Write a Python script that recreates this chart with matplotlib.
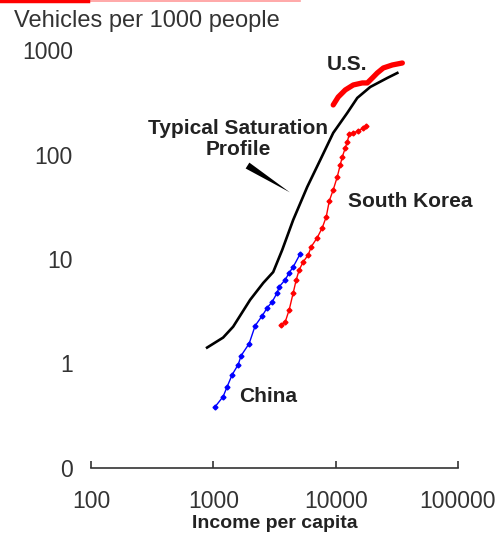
import matplotlib
matplotlib.use('Agg')
from matplotlib import pyplot as plt
from matplotlib.lines import Line2D

plt.rcParams['font.family'] = ['Liberation Sans', 'DejaVu Sans']

# typical saturation profile (black)
typ_income = [889, 1202, 1452, 2000, 2558, 3085, 3655, 4498, 5857, 7482,
              9550, 12440, 15020, 19190, 26420, 31920]
typ_vehicles = [1.42, 1.77, 2.25, 4.07, 5.9, 7.5, 12.2, 23.7, 49, 88.7,
                161, 250, 348, 443, 540, 603]

# China (blue)
china_income = [1035, 1202, 1297, 1426, 1596, 1688, 1962, 2198, 2508, 2756,
                3028, 3327, 3453, 3868, 4171, 4498, 5130]
china_vehicles = [0.386, 0.482, 0.60, 0.782, 0.975, 1.19, 1.55, 2.30, 2.86, 3.41,
                  3.90, 4.75, 5.42, 6.33, 7.38, 8.42, 11.2]

# South Korea (red)
korea_income = [3589, 3873, 4171, 4498, 4760, 5035, 5430, 5970, 6310, 7068,
                7770, 8370, 8870, 9550, 10300, 10900, 11330, 11990, 12440, 12920,
                13930, 15310, 16820, 17780]
korea_vehicles = [2.35, 2.51, 3.27, 4.75, 6.33, 7.88, 9.40, 10.96, 13.1, 16.0,
                  19.9, 25.3, 36.0, 45.9, 61, 79.6, 94.9, 116, 132, 157,
                  161, 168, 179, 188]

# U.S. (red, thick)
us_income = [9550, 10490, 11990, 13930, 16510, 18150, 19950, 21880, 24530, 29040, 35070]
us_vehicles = [298, 355, 415, 463, 484, 484, 540, 603, 673, 719, 751]

y_ticks = [0.1, 1, 10, 100, 1000]
y_labels = ['0', '1', '10', '100', '1000']
x_ticks = [100, 1000, 10000, 100000]
x_labels = ['100', '1000', '10000', '100000']


def main():
    fig = plt.figure(figsize=(4.99, 5.33), dpi=100)
    ax = fig.add_axes([91 / 499, 65 / 533, 367 / 499, 418 / 533])

    ax.plot(typ_income, typ_vehicles, color='black', lw=1.9)
    ax.plot(china_income, china_vehicles, color='#0000ff', lw=1,
            marker='D', markersize=2.5)
    ax.plot(korea_income, korea_vehicles, color='#ff0000', lw=1,
            marker='D', markersize=2.5)
    ax.plot(us_income, us_vehicles, color='#ff0000', lw=3.8,
            solid_capstyle='round')

    ax.set_xscale('log')
    ax.set_yscale('log')
    ax.set_xlim(100, 100000)
    ax.set_ylim(0.1, 1000)

    ax.set_xticks(x_ticks)
    ax.set_xticklabels(x_labels)
    ax.set_yticks(y_ticks)
    ax.set_yticklabels(y_labels)
    ax.minorticks_off()

    for side in ['top', 'right', 'left']:
        ax.spines[side].set_visible(False)
    ax.spines['bottom'].set_color('#333333')
    ax.spines['bottom'].set_linewidth(1.2)

    ax.tick_params(axis='x', direction='in', length=5, width=1.2,
                   color='#333333', pad=15.5, labelsize=16.5, labelcolor='#333333')
    ax.tick_params(axis='y', length=0, pad=13, labelsize=16.5, labelcolor='#333333')

    # x axis title sits right at the bottom edge
    fig.text(274.5 / 499, 5 / 533, 'Income per capita', fontsize=14,
             fontweight='bold', color='#222222', ha='center', va='baseline')

    # annotations
    bold = dict(fontsize=15, fontweight='bold', color='#222222',
                ha='center', va='center')
    ax.text(12440, 719, 'U.S.', **bold)
    ax.text(40740, 35.2, 'South Korea', **bold)
    ax.text(2806, 0.482, 'China', **bold)
    ax.text(1596, 176, 'Typical Saturation', **bold)
    ax.text(1596, 111, 'Profile', **bold)
    ax.annotate('', xy=(4416, 42), xytext=(1820, 81),
                arrowprops=dict(arrowstyle='wedge,tail_width=0.5,shrink_factor=0.5',
                                color='black', lw=0))

    fig.text(14 / 499, 1 - 21 / 533, 'Vehicles per 1000 people', fontsize=17,
             color='#333333', ha='left', va='center')

    # red rule at the top
    fig.add_artist(Line2D([0, 300 / 499], [0.999, 0.999], color='#ff9a9a', lw=1.2))
    fig.add_artist(Line2D([0, 88 / 499], [0.998, 0.998], color='#ff0000', lw=2.5))

    fig.savefig('out.png', dpi=100)


if __name__ == '__main__':
    main()
